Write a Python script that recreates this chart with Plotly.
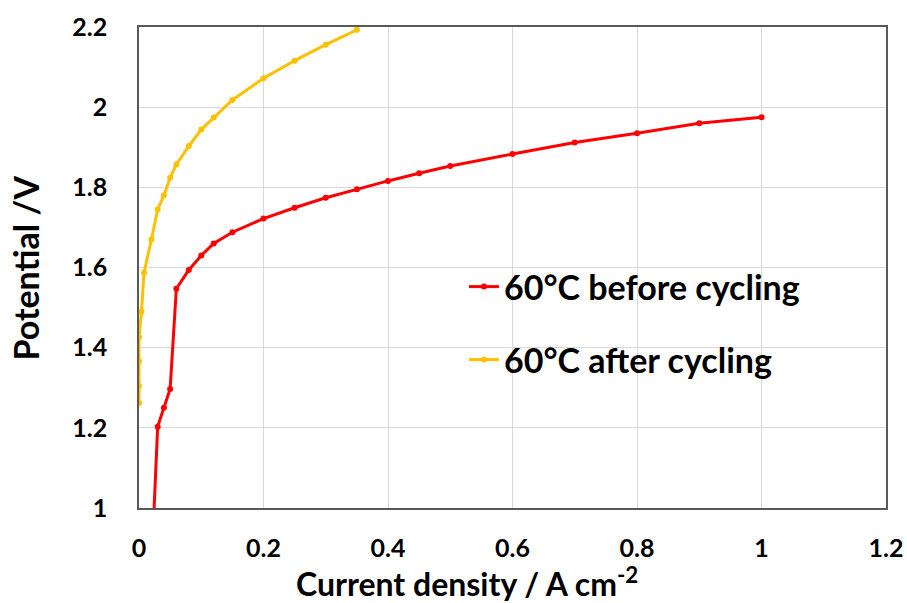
import plotly.graph_objects as go

# Data
red_name = "60°C before cycling"
red_x = [0.02, 0.03, 0.04, 0.05, 0.06, 0.08, 0.10, 0.12, 0.15, 0.20, 0.25, 0.30, 0.35,
         0.40, 0.45, 0.50, 0.60, 0.70, 0.80, 0.90, 1.00]
red_y = [0.85, 1.203, 1.25, 1.297, 1.547, 1.594, 1.630, 1.660, 1.688, 1.722, 1.749, 1.774,
         1.795, 1.816, 1.835, 1.853, 1.883, 1.912, 1.935, 1.960, 1.975]

yel_name = "60°C after cycling"
yel_x = [0.0, 0.0, 0.0, 0.0, 0.004, 0.008, 0.02, 0.03, 0.04, 0.05, 0.06, 0.08, 0.10, 0.12,
         0.15, 0.20, 0.25, 0.30, 0.35]
yel_y = [1.262, 1.305, 1.366, 1.426, 1.490, 1.587, 1.670, 1.745, 1.780, 1.824, 1.857, 1.903,
         1.944, 1.974, 2.018, 2.072, 2.116, 2.156, 2.193]

x_ticks = [0, 0.2, 0.4, 0.6, 0.8, 1.0, 1.2]
x_labels = ["0", "0.2", "0.4", "0.6", "0.8", "1", "1.2"]
y_ticks = [1.0, 1.2, 1.4, 1.6, 1.8, 2.0, 2.2]
y_labels = ["1", "1.2", "1.4", "1.6", "1.8", "2", "2.2"]
x_title = "Current density / A cm<sup>-2</sup>"
y_title = "Potential /V"

FONT = "Lato"
RED = "#FF0000"
GOLD = "#FFC000"

fig = go.Figure()
fig.add_trace(go.Scatter(x=red_x, y=red_y, name=red_name, mode="lines+markers",
                         line=dict(color=RED, width=3), marker=dict(color=RED, size=6),
                         showlegend=True, legend="legend"))
fig.add_trace(go.Scatter(x=yel_x, y=yel_y, name=yel_name, mode="lines+markers",
                         line=dict(color=GOLD, width=3), marker=dict(color=GOLD, size=6),
                         showlegend=True, legend="legend2"))

legend_common = dict(font=dict(family=FONT, size=34, color="black", weight="bold"),
                     bgcolor="rgba(0,0,0,0)", itemwidth=30,
                     xanchor="left", yanchor="middle", xref="paper", yref="paper")

W, HH = 907, 603
L, R, T, B = 139, 21, 27, 95
H = HH - T - B
PW = W - L - R

fig.update_layout(
    width=W, height=HH,
    margin=dict(l=L, r=R, t=T, b=B, autoexpand=False),
    showlegend=True,
    paper_bgcolor="white", plot_bgcolor="white",
    font=dict(family=FONT, color="black"),
    legend=dict(x=0.435, y=(HH - B - 287) / H, **legend_common),
    legend2=dict(x=0.435, y=(HH - B - 360) / H, **legend_common),
    xaxis=dict(range=[0, 1.2], tickvals=x_ticks, ticktext=x_labels,
               showgrid=True, gridcolor="#D9D9D9", gridwidth=1,
               showline=True, linecolor="#595959", linewidth=1.5, mirror=True,
               zeroline=False, ticks="", ticklabelstandoff=17, automargin=False,
               tickfont=dict(family=FONT, size=25, weight="bold")),
    yaxis=dict(range=[1.0, 2.2], tickvals=y_ticks, ticktext=y_labels,
               showgrid=True, gridcolor="#D9D9D9", gridwidth=1,
               showline=True, linecolor="#595959", linewidth=1.5, mirror=True,
               zeroline=False, ticks="", ticklabelstandoff=25, automargin=False,
               tickfont=dict(family=FONT, size=25, weight="bold")),
    annotations=[
        dict(text=x_title, xref="paper", yref="paper",
             x=(467 - L) / PW, y=(HH - B - 582) / H, xanchor="center", yanchor="middle",
             borderpad=0, showarrow=False,
             font=dict(family=FONT, size=32, weight="bold", color="black")),
        dict(text=y_title, xref="paper", yref="paper", textangle=-90,
             x=(25 - L) / PW, y=0.5, xanchor="center", yanchor="middle",
             showarrow=False, font=dict(family=FONT, size=34, weight="bold", color="black")),
    ],
)

fig.write_html("out.html", config={"displayModeBar": False},
               post_script="document.body.style.margin='0';")
